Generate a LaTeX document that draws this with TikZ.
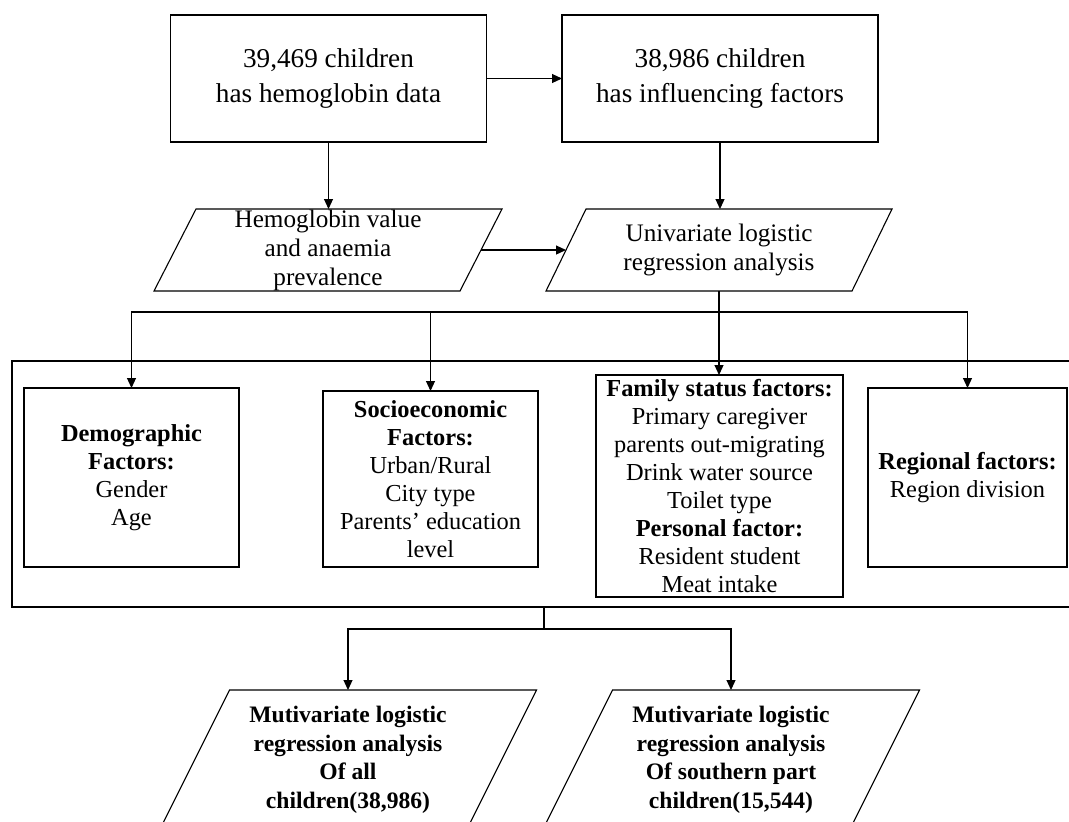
\documentclass[tikz,border=0pt]{standalone}
\usepackage{fontspec}
\setmainfont{Liberation Serif}
\usetikzlibrary{arrows.meta}

% outline of a leaning box round a named node
\newcommand{\slantframe}[2]{%
  \draw[thinline] ([xshift=#2]#1.north west) -- ([xshift=#2]#1.north east)
    -- ([xshift=-#2]#1.south east) -- ([xshift=-#2]#1.south west) -- cycle;}

\begin{document}
\begin{tikzpicture}[x=0.5pt, y=-0.5pt,
    thinline/.style={line width=0.55pt},
    arr/.style={thinline, -{Triangle[length=5pt,width=4.5pt]}},
    box/.style={draw, thinline, inner sep=0pt, outer sep=0pt, align=center},
    topbox/.style={box, minimum width=158pt, minimum height=63.5pt,
        font=\fontsize{13.6}{17.5}\selectfont},
    slant/.style={inner sep=0pt, outer sep=0pt, align=center,
        minimum width=153pt, minimum height=41pt,
        font=\fontsize{12.6}{14.5}\selectfont},
    factor/.style={box, font=\fontsize{12.2}{14}\selectfont},
    result/.style={slant, minimum width=153.5pt, minimum height=70pt,
        font=\bfseries\fontsize{11.8}{14.3}\selectfont}]

    \useasboundingbox (0,0) rectangle (1069,821);
    \clip (0,0) rectangle (1069,821);

    % samples
    \node[topbox] (hb) at (328.5,78.5) {39,469 children\\has hemoglobin data};
    \node[topbox] (inf) at (720,78.5) {38,986 children\\has influencing factors};

    \node[slant] (hbv) at (328,250) {Hemoglobin value\\and anaemia\\prevalence};
    \slantframe{hbv}{10.5pt}
    \node[slant] (uni) at (719,250) {Univariate logistic\\regression analysis};
    \slantframe{uni}{10pt}

    % factor groups
    \node[box, minimum width=532pt, minimum height=123pt] (frame) at (544,484) {};

    \node[factor, minimum width=107.5pt, minimum height=89.5pt] (demo) at (131.5,477.5)
        {\textbf{Demographic}\\\textbf{Factors:}\\Gender\\Age};
    \node[factor, minimum width=107.5pt, minimum height=88pt] (socio) at (430.5,479)
        {\textbf{Socioeconomic}\\\textbf{Factors:}\\Urban/Rural\\City type\\Parents’\ education\\level};
    \node[factor, minimum width=123.5pt, minimum height=111pt] (family) at (719.5,486)
        {\textbf{Family status factors:}\\Primary caregiver\\parents out-migrating\\Drink water source\\Toilet type\\\textbf{Personal factor:}\\Resident student\\Meat intake};
    \node[factor, minimum width=99.5pt, minimum height=89.5pt] (region) at (967.5,477.5)
        {\textbf{Regional factors:}\\Region division};

    % multivariate
    \node[result] (all) at (348,760)
        {Mutivariate logistic\\regression analysis\\Of all\\children(38,986)};
    \slantframe{all}{17.5pt}
    \node[result] (south) at (731,760)
        {Mutivariate logistic\\regression analysis\\Of southern part\\children(15,544)};
    \slantframe{south}{17.5pt}

    \coordinate (br) at (719,312);
    \coordinate (mg) at (544,629);

    \draw[arr] (hb.east) -- (inf.west);
    \draw[arr] (hb.south) -- (hb.south |- hbv.north);
    \draw[arr] (inf.south) -- (inf.south |- uni.north);
    \draw[arr] (hbv.east) -- (uni.west);

    \draw[thinline] (uni.south) -- (br);
    \draw[arr] (br) -| (demo.north);
    \draw[arr] (br) -| (socio.north);
    \draw[arr] (br) -- (br |- family.north);
    \draw[arr] (br) -| (region.north);

    \draw[thinline] (frame.south) -- (mg);
    \draw[arr] (mg) -| (all.north);
    \draw[arr] (mg) -| (south.north);
\end{tikzpicture}
\end{document}
